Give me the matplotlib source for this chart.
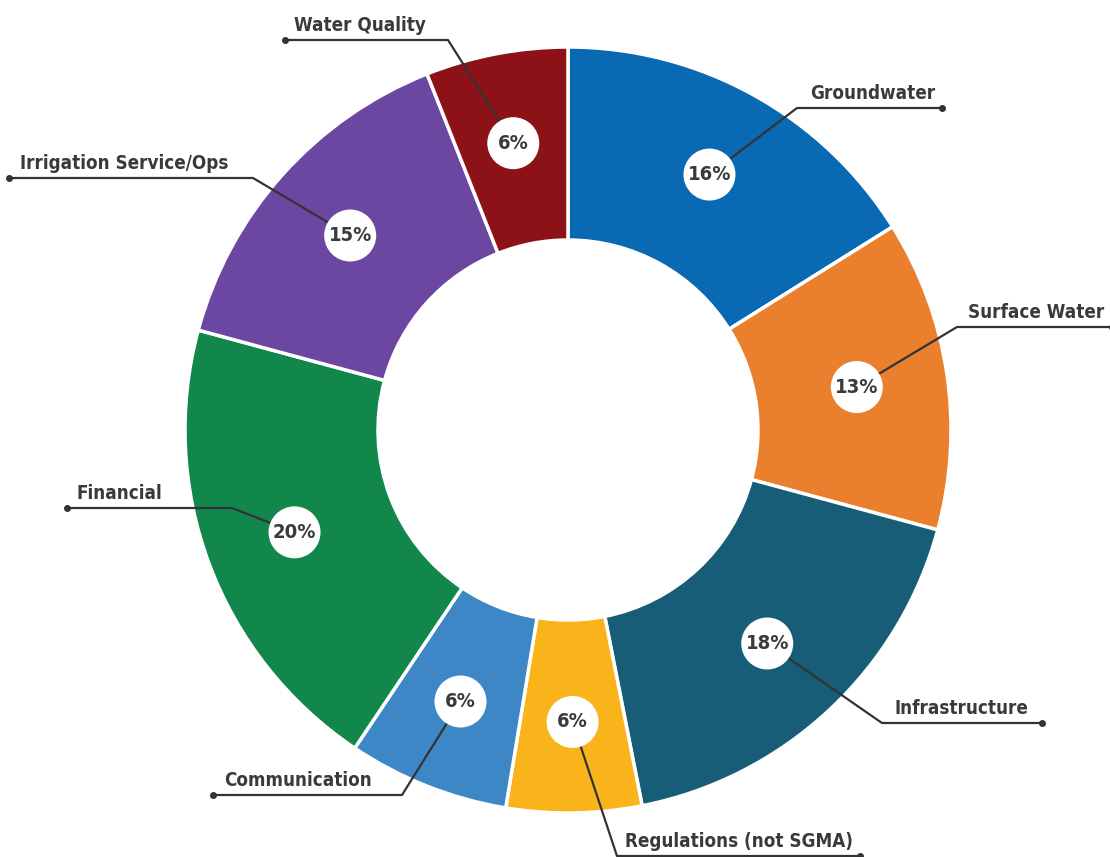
import numpy as np
import matplotlib.pyplot as plt
from matplotlib.patches import Circle

categories = ['Groundwater', 'Surface Water', 'Infrastructure', 'Regulations (not SGMA)',
              'Communication', 'Financial', 'Irrigation Service/Ops', 'Water Quality']
values = [16.1, 13.1, 17.7, 5.7, 6.8, 19.8, 14.8, 6.0]
pct_labels = ['16%', '13%', '18%', '6%', '6%', '20%', '15%', '6%']

colors = ['#0a69b3', '#ea7f2d', '#185d77', '#f9b31b',
          '#3e87c7', '#12874b', '#6c47a1', '#8c1217']

W, H = 1110, 857
TEXT = '#3a3a3a'
LINE = '#333333'
FONT = ['DejaVu Sans', 'Liberation Sans']

# leader line layout in pixel coords (y down): elbow, end point, text x
leaders = {
    'Groundwater':            ((797, 108), (942, 108), 810),
    'Surface Water':          ((957, 327), (1112, 327), 968),
    'Infrastructure':         ((882, 723), (1042, 723), 895),
    'Regulations (not SGMA)': ((617, 856), (860, 856), 625),
    'Communication':          ((402, 795), (213, 795), 224),
    'Financial':              ((232, 508), (67, 508), 77),
    'Irrigation Service/Ops': ((253, 178), (9, 178), 20),
    'Water Quality':          ((448, 40), (285, 40), 294),
}


def px(x, y):
    return x, H - y


fig = plt.figure(figsize=(W / 100, H / 100), dpi=100)
ax = fig.add_axes([0, 0, 1, 1])

cx, cy = px(568, 430)
R = 383
wedges, _ = ax.pie(values, colors=colors, startangle=90, counterclock=False,
                   center=(cx, cy), radius=R, frame=True,
                   wedgeprops=dict(width=193, edgecolor='white', linewidth=2.5))
ax.set_xlim(0, W)
ax.set_ylim(0, H)
ax.set_aspect('equal')
ax.axis('off')

r_lab = 292
for w, cat, lab in zip(wedges, categories, pct_labels):
    mid = np.deg2rad((w.theta1 + w.theta2) / 2)
    lx, ly = cx + r_lab * np.cos(mid), cy + r_lab * np.sin(mid)
    elbow, end, tx = leaders[cat]
    ex, ey = px(*elbow)
    dx, dy = px(*end)
    ax.plot([lx, ex, dx], [ly, ey, dy], color=LINE, lw=1.6, zorder=5,
            solid_capstyle='round')
    ax.plot([dx], [dy], 'o', color=LINE, ms=4, zorder=5)
    ax.add_patch(Circle((lx, ly), 26, facecolor='white', edgecolor='none', zorder=6))
    ax.text(lx, ly, lab, ha='center', va='center', fontsize=14.5, fontweight='bold',
            fontstretch='condensed', color=TEXT, family=FONT, zorder=7)
    ax.text(tx, ey + 5, cat, ha='left', va='bottom', fontsize=13.5, fontweight='bold',
            fontstretch='condensed', color=TEXT, family=FONT, zorder=7)

fig.savefig('out.png', dpi=100, facecolor='white')
